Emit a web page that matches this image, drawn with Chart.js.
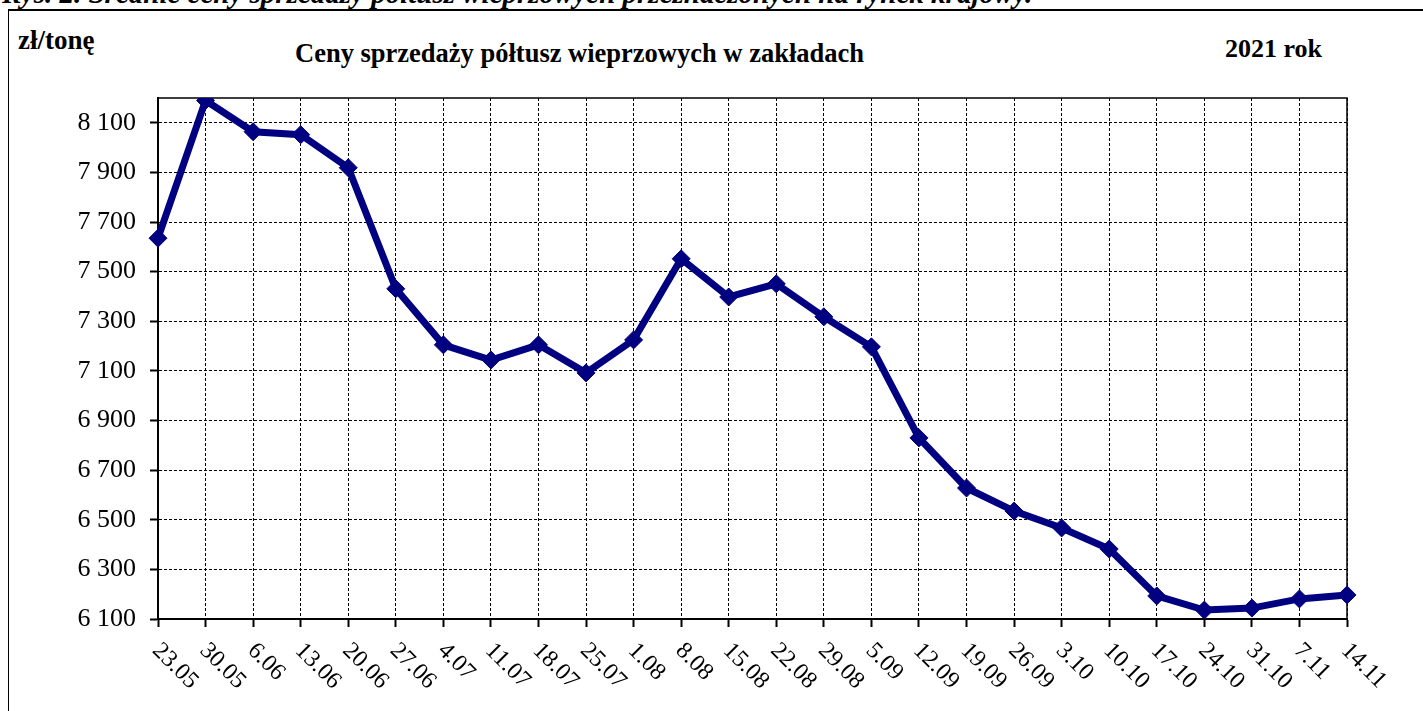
<!DOCTYPE html>
<html>
<head>
<meta charset="utf-8">
<script src="https://cdn.jsdelivr.net/npm/chart.js@4/dist/chart.umd.min.js"></script>
<style>
    body { margin: 0; background: #fff; }
    #wrap { position: relative; width: 1423px; height: 711px; overflow: hidden; font-family: "Liberation Serif", "Times New Roman", serif; color: #000; }
    #frame { position: absolute; left: 8px; top: 9px; right: -10px; bottom: -10px; border-top: 2px solid #000; border-left: 1.5px solid #000; }
    .txt { position: absolute; white-space: nowrap; font-weight: bold; }
    #caption { left: 2px; top: -23px; font-size: 29px; font-style: italic; font-weight: bold; }
    #unit { left: 18px; top: 25px; font-size: 27px; }
    #title { left: 295px; top: 38px; font-size: 26.5px; }
    #year { left: 1225px; top: 34px; font-size: 26px; }
    canvas { position: absolute; left: 0; top: 0; }
</style>
</head>
<body>
<div id="wrap">
    <div id="frame"></div>
    <div class="txt" id="caption">Rys. 2. Średnie ceny sprzedaży półtusz wieprzowych przeznaczonych na rynek krajowy.</div>
    <div class="txt" id="unit">zł/tonę</div>
    <div class="txt" id="title">Ceny sprzedaży półtusz wieprzowych w zakładach</div>
    <div class="txt" id="year">2021 rok</div>
    <canvas id="chart" width="1423" height="711"></canvas>
</div>
<script>
// tygodnie (notowania)
const weeks = ['23.05', '30.05', '6.06', '13.06', '20.06', '27.06', '4.07', '11.07', '18.07', '25.07',
    '1.08', '8.08', '15.08', '22.08', '29.08', '5.09', '12.09', '19.09', '26.09', '3.10',
    '10.10', '17.10', '24.10', '31.10', '7.11', '14.11'];

// ceny w zł/tonę
const prices = [7635, 8190, 8064, 8052, 7919, 7431, 7205, 7144, 7205, 7092,
    7225, 7552, 7398, 7451, 7318, 7197, 6830, 6628, 6535, 6467,
    6382, 6193, 6136, 6144, 6181, 6197];

// podziałka osi Y
const yTicks = [6100, 6300, 6500, 6700, 6900, 7100, 7300, 7500, 7700, 7900, 8100];
const yMin = 6100;
const yMax = 8200;

const navy = '#000080';

function formatPl(v) {
    return String(v).replace(/\B(?=(\d{3})+(?!\d))/g, ' ');
}

// ramka obszaru wykresu (góra i prawa strona)
const plotFrame = {
    id: 'plotFrame',
    beforeDatasetsDraw(chart) {
        const { ctx, chartArea: a } = chart;
        ctx.save();
        ctx.strokeStyle = '#000';
        ctx.lineWidth = 1.5;
        ctx.beginPath();
        ctx.moveTo(a.left, a.top);
        ctx.lineTo(a.right, a.top);
        ctx.lineTo(a.right, a.bottom);
        ctx.stroke();
        ctx.restore();
    }
};

// etykiety osi X obrócone o 45 stopni w dół
const slantLabels = {
    id: 'slantLabels',
    afterDraw(chart) {
        const { ctx, chartArea: a } = chart;
        const xs = chart.scales.x;
        ctx.save();
        ctx.fillStyle = '#000';
        ctx.font = '24px "Liberation Serif", "Times New Roman", serif';
        ctx.textAlign = 'left';
        ctx.textBaseline = 'middle';
        weeks.forEach((w, i) => {
            const x = xs.getPixelForTick(i);
            ctx.save();
            ctx.translate(x - 2, a.bottom + 28);
            ctx.rotate(Math.PI / 4);
            ctx.fillText(w, 0, 0);
            ctx.restore();
        });
        ctx.restore();
    }
};

new Chart(document.getElementById('chart'), {
    type: 'line',
    data: {
        labels: weeks,
        datasets: [{
            label: 'Ceny',
            data: prices,
            borderColor: navy,
            backgroundColor: navy,
            borderWidth: 7,
            tension: 0,
            pointStyle: 'rectRot',
            pointRadius: 9,
            pointBorderWidth: 1,
            pointBackgroundColor: navy,
            pointBorderColor: navy
        }]
    },
    options: {
        responsive: false,
        animation: false,
        devicePixelRatio: 1,
        layout: {
            padding: { left: 0, top: 98, right: 76, bottom: 0 }
        },
        plugins: {
            legend: { display: false },
            title: { display: false },
            tooltip: { enabled: false }
        },
        scales: {
            x: {
                offset: false,
                grid: {
                    color: '#000',
                    lineWidth: 1,
                    tickLength: 8,
                    tickWidth: 2,
                    tickColor: '#000'
                },
                border: { display: true, color: '#000', width: 2, dash: [3, 2] },
                ticks: { display: false, autoSkip: false },
                afterFit(axis) { axis.height = 92; }
            },
            y: {
                min: yMin,
                max: yMax,
                grid: {
                    color: '#000',
                    lineWidth: 1,
                    tickLength: 8,
                    tickWidth: 2,
                    tickColor: '#000'
                },
                border: { display: true, color: '#000', width: 2, dash: [3, 2] },
                ticks: {
                    color: '#000',
                    padding: 14,
                    font: { family: '"Liberation Serif", "Times New Roman", serif', size: 26 },
                    callback: v => formatPl(v)
                },
                afterBuildTicks(axis) {
                    axis.ticks = yTicks.map(v => ({ value: v }));
                },
                afterFit(axis) { axis.width = 158; }
            }
        }
    },
    plugins: [plotFrame, slantLabels]
});
</script>
</body>
</html>
